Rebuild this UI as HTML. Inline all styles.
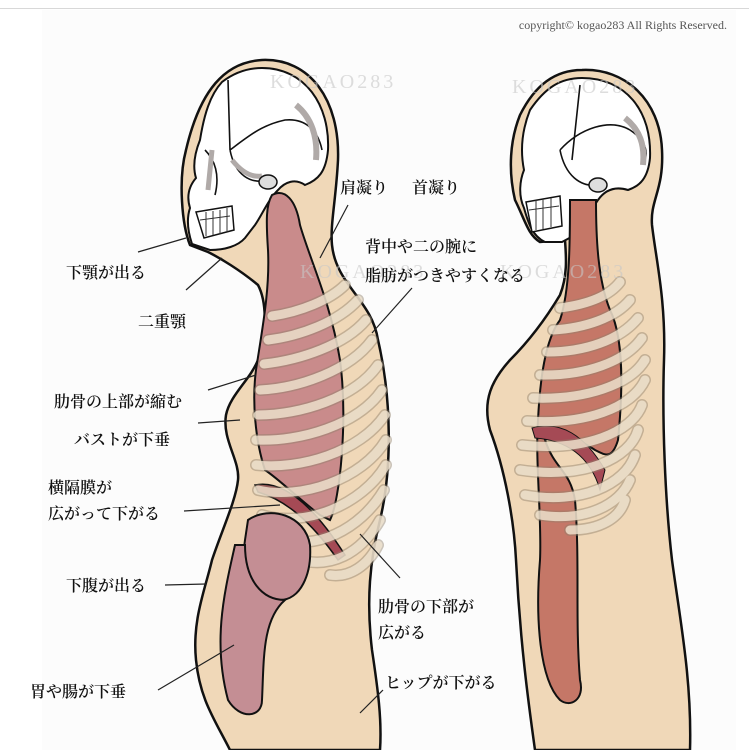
<!DOCTYPE html>
<html><head><meta charset="utf-8"><style>
html,body{margin:0;padding:0;background:#fff;}
svg{display:block}
text{font-family:"Liberation Serif","Noto Serif CJK SC","Noto Sans CJK JP",serif;}
</style></head><body>
<svg width="749" height="750" viewBox="0 0 749 750" xmlns="http://www.w3.org/2000/svg">
<rect x="0" y="0" width="749" height="750" fill="#fff"/>
<rect x="0" y="8" width="749" height="1" fill="#d8d8d8"/>
<rect x="42" y="10" width="694" height="740" fill="#fcfcfc"/>
<text x="727" y="29" font-size="12" fill="#555" text-anchor="end">copyright© kogao283 All Rights Reserved.</text>

<!-- LEFT FIGURE body -->
<path d="M262,60 C310,58 340,100 338,160 C336,200 330,225 332,245 C336,285 372,300 378,340 C392,400 392,470 380,520 C370,560 366,600 372,650 C378,690 382,720 380,750 L230,750 C215,720 200,700 196,660 C192,620 205,590 212,560 C222,530 236,500 238,480 C240,460 222,440 226,415 C230,395 250,380 258,360 C268,330 266,300 258,285 C240,270 220,258 208,252 L190,245 C182,225 178,180 186,150 C200,90 225,62 262,60 Z" fill="#f0d8b8" stroke="#111" stroke-width="2.5"/>
<!-- skull left -->
<path d="M262,68 C305,68 330,105 328,150 C326,172 318,180 305,185 C295,178 285,182 278,190 C268,200 262,215 255,225 L245,238 C238,246 225,250 210,250 L192,244 C188,232 186,220 190,208 C186,195 190,185 196,178 C192,165 196,150 200,140 C204,115 210,95 222,82 C235,72 248,68 262,68 Z" fill="#fff" stroke="#111" stroke-width="2"/>
<path d="M228,80 L230,150 M230,150 C250,135 262,125 285,120 C305,118 318,130 322,150 M230,150 C235,175 250,185 270,180 M205,150 C215,160 220,175 215,195" fill="none" stroke="#111" stroke-width="1.6"/>
<path d="M296,105 C312,118 318,138 316,160" stroke="#b0aaa8" stroke-width="6" fill="none"/>
<path d="M232,160 C240,170 250,178 262,176 M212,150 L208,190" stroke="#b0aaa8" stroke-width="5" fill="none"/>
<path d="M196,212 L232,206 L234,230 L204,238 Z" fill="#fff" stroke="#111" stroke-width="1.5"/>
<path d="M200,220 L230,216 M206,212 L206,236 M213,211 L213,235 M220,210 L220,234 M227,208 L227,232" stroke="#333" stroke-width="1"/>
<ellipse cx="268" cy="182" rx="9" ry="7" fill="#ddd" stroke="#111" stroke-width="1.5"/>
<!-- trachea / lungs left -->
<path d="M272,195 C285,188 296,200 300,225 C310,260 330,300 340,360 C348,420 340,500 330,520 L320,515 C300,500 280,480 265,470 C255,440 252,400 256,370 C262,330 270,290 268,250 C266,220 266,205 272,195 Z" fill="#c98b8b" stroke="#111" stroke-width="2"/>
<!-- diaphragm -->
<path d="M255,485 C280,480 310,500 345,555 L338,560 C310,520 285,500 258,492 Z" fill="#a54a55" stroke="#111" stroke-width="1.5"/>
<!-- ribs left -->
<g fill="none" stroke="#8e7f6a" stroke-width="12" stroke-linecap="round" opacity="0.45">
<path d="M272,316 C300,312 330,300 345,285"/><path d="M268,340 C300,336 338,322 358,300"/><path d="M264,364 C300,360 345,345 366,320"/><path d="M260,390 C300,388 350,370 372,340"/><path d="M258,415 C300,415 355,398 378,365"/><path d="M256,440 C300,442 358,425 382,390"/><path d="M256,465 C300,470 360,452 385,415"/><path d="M258,490 C300,500 362,480 386,440"/><path d="M262,515 C305,528 362,505 386,465"/><path d="M275,538 C315,552 360,530 384,490"/><path d="M300,560 C330,568 360,555 380,520"/><path d="M330,575 C350,578 368,565 378,545"/>
</g>
<g fill="none" stroke="#f3e6d2" stroke-width="9" stroke-linecap="round" opacity="0.8">
<path d="M272,316 C300,312 330,300 345,285"/><path d="M268,340 C300,336 338,322 358,300"/><path d="M264,364 C300,360 345,345 366,320"/><path d="M260,390 C300,388 350,370 372,340"/><path d="M258,415 C300,415 355,398 378,365"/><path d="M256,440 C300,442 358,425 382,390"/><path d="M256,465 C300,470 360,452 385,415"/><path d="M258,490 C300,500 362,480 386,440"/><path d="M262,515 C305,528 362,505 386,465"/><path d="M275,538 C315,552 360,530 384,490"/><path d="M300,560 C330,568 360,555 380,520"/><path d="M330,575 C350,578 368,565 378,545"/>
</g>
<!-- abdomen left -->
<path d="M248,520 C270,505 305,515 310,545 C312,575 300,600 280,600 C255,598 240,570 245,540 Z" fill="#c48e94" stroke="#111" stroke-width="2"/>
<path d="M235,545 C225,590 212,640 228,700 C240,720 262,718 262,700 C264,660 262,620 285,600 C262,600 245,580 245,545 Z" fill="#c48e94" stroke="#111" stroke-width="2"/>

<!-- RIGHT FIGURE -->
<path d="M582,70 C625,68 660,100 662,150 C664,190 650,200 652,225 C656,260 666,300 664,360 C662,420 665,500 672,560 C680,620 692,680 690,750 L535,750 C528,700 520,640 516,560 C514,520 505,470 490,430 C482,400 492,380 510,360 C530,340 545,320 560,295 C568,275 566,255 565,240 L540,242 C528,235 525,220 515,200 C508,170 510,140 520,115 C535,85 555,70 582,70 Z" fill="#f0d8b8" stroke="#111" stroke-width="2.5"/>
<path d="M582,78 C625,78 652,110 650,158 C648,178 640,186 628,190 C615,186 605,190 598,200 C590,212 582,225 575,235 L562,242 L545,242 C532,236 528,222 524,208 C518,195 520,180 524,170 C520,150 522,130 530,110 C545,88 560,78 582,78 Z" fill="#fff" stroke="#111" stroke-width="2"/>
<path d="M580,85 L572,160 M560,150 C580,128 610,118 630,130 C645,140 648,150 645,160 M560,150 C565,175 580,188 600,185" fill="none" stroke="#111" stroke-width="1.6"/>
<path d="M625,118 C640,130 645,145 643,165" stroke="#b0aaa8" stroke-width="6" fill="none"/>
<path d="M526,202 L560,196 L562,226 L532,232 Z" fill="#fff" stroke="#111" stroke-width="1.5"/>
<path d="M529,210 L559,206 M536,200 L536,230 M543,199 L543,229 M551,198 L551,227" stroke="#333" stroke-width="1"/>
<ellipse cx="598" cy="185" rx="9" ry="7" fill="#ddd" stroke="#111" stroke-width="1.5"/>
<!-- right organ -->
<path d="M570,200 L596,200 C596,240 598,280 610,310 C625,340 622,400 618,440 C612,460 605,455 595,450 C580,440 560,430 545,440 C555,470 570,470 575,500 C580,560 575,620 580,680 C585,700 570,708 560,700 C540,680 535,620 540,560 C542,520 535,460 538,420 C540,380 545,340 560,320 C570,290 570,240 570,200 Z" fill="#c57767" stroke="#111" stroke-width="2"/>
<path d="M532,428 C560,420 585,435 605,470 L600,490 C590,455 565,440 535,438 Z" fill="#a54a55" stroke="#111" stroke-width="1"/>
<g fill="none" stroke="#8e7f6a" stroke-width="12" stroke-linecap="round" opacity="0.45">
<path d="M560,308 C590,304 610,295 620,282"/><path d="M553,330 C585,328 615,318 630,300"/><path d="M547,352 C585,352 620,340 638,318"/><path d="M540,375 C585,376 625,362 642,338"/><path d="M533,398 C585,400 630,385 645,360"/><path d="M527,421 C585,425 632,408 645,380"/><path d="M522,445 C585,452 632,432 642,405"/><path d="M520,470 C585,480 630,458 638,430"/><path d="M525,495 C580,505 625,485 635,455"/><path d="M540,515 C585,522 620,505 630,480"/><path d="M570,530 C600,530 620,518 625,500"/>
</g>
<g fill="none" stroke="#f3e6d2" stroke-width="9" stroke-linecap="round" opacity="0.8">
<path d="M560,308 C590,304 610,295 620,282"/><path d="M553,330 C585,328 615,318 630,300"/><path d="M547,352 C585,352 620,340 638,318"/><path d="M540,375 C585,376 625,362 642,338"/><path d="M533,398 C585,400 630,385 645,360"/><path d="M527,421 C585,425 632,408 645,380"/><path d="M522,445 C585,452 632,432 642,405"/><path d="M520,470 C585,480 630,458 638,430"/><path d="M525,495 C580,505 625,485 635,455"/><path d="M540,515 C585,522 620,505 630,480"/><path d="M570,530 C600,530 620,518 625,500"/>
</g>

<!-- watermarks -->
<g font-size="20" fill="#c8c8c8" opacity="0.6" letter-spacing="3">
<text x="270" y="88">KOGAO283</text>
<text x="512" y="93">KOGAO283</text>
<text x="300" y="278">KOGAO283</text>
<text x="500" y="278">KOGAO283</text>
</g>

<!-- leader lines -->
<g stroke="#222" stroke-width="1.2">
<line x1="138" y1="252" x2="186" y2="238"/>
<line x1="186" y1="290" x2="222" y2="258"/>
<line x1="320" y1="258" x2="348" y2="205"/>
<line x1="372" y1="333" x2="412" y2="288"/>
<line x1="208" y1="390" x2="256" y2="375"/>
<line x1="198" y1="423" x2="240" y2="420"/>
<line x1="184" y1="511" x2="280" y2="505"/>
<line x1="165" y1="585" x2="206" y2="584"/>
<line x1="400" y1="578" x2="360" y2="534"/>
<line x1="158" y1="690" x2="234" y2="645"/>
<line x1="360" y1="713" x2="383" y2="690"/>
</g>

<g font-size="16" fill="#111" font-weight="600">
<text x="340" y="193">肩凝り</text>
<text x="412" y="193">首凝り</text>
<text x="365" y="252">背中や二の腕に</text>
<text x="365" y="281">脂肪がつきやすくなる</text>
<text x="66" y="278">下顎が出る</text>
<text x="138" y="327">二重顎</text>
<text x="54" y="407">肋骨の上部が縮む</text>
<text x="74" y="445">バストが下垂</text>
<text x="48" y="493">横隔膜が</text>
<text x="48" y="519">広がって下がる</text>
<text x="66" y="591">下腹が出る</text>
<text x="378" y="612">肋骨の下部が</text>
<text x="378" y="638">広がる</text>
<text x="30" y="697">胃や腸が下垂</text>
<text x="385" y="688">ヒップが下がる</text>
</g>
</svg>
</body></html>
